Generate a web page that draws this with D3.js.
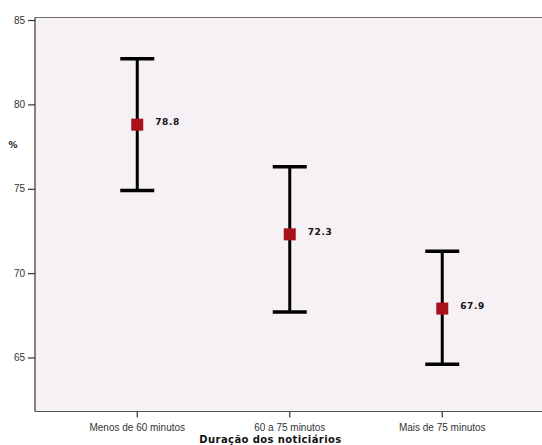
<!DOCTYPE html>
<html>
<head>
<meta charset="utf-8">
<script src="https://cdn.jsdelivr.net/npm/d3@7"></script>
<style>
  html, body { margin: 0; padding: 0; background: #ffffff; }
  svg { display: block; }
</style>
</head>
<body>
<script>
// Mean percentage with interval, by newscast duration
const categories = ["Menos de 60 minutos", "60 a 75 minutos", "Mais de 75 minutos"];
const means = [78.8, 72.3, 67.9];
const lower = [74.9, 67.7, 64.6];
const upper = [82.7, 76.3, 71.3];
const yTicks = [65, 70, 75, 80, 85];

const W = 542, H = 445;
const plot = { left: 35, right: 542, top: 17.5, bottom: 411.5 };

const svg = d3.select("body").append("svg")
  .attr("width", W).attr("height", H);

const y = d3.scaleLinear()
  .domain([61.8, 85.15])
  .range([plot.bottom, plot.top]);

const x = d3.scaleBand()
  .domain(categories)
  .range([61, 518.5])
  .paddingInner(0).paddingOuter(0);

// plot background
svg.append("rect")
  .attr("x", plot.left).attr("y", plot.top)
  .attr("width", plot.right - plot.left)
  .attr("height", plot.bottom - plot.top)
  .attr("fill", "#f6f1f5");

// top frame line
svg.append("line")
  .attr("x1", plot.left).attr("x2", plot.right)
  .attr("y1", plot.top).attr("y2", plot.top)
  .attr("stroke", "#6e6e6e").attr("stroke-width", 1.2);

// y axis
const yAxis = svg.append("g")
  .attr("transform", `translate(${plot.left},0)`)
  .call(d3.axisLeft(y).tickValues(yTicks).tickSize(7).tickPadding(3).tickFormat(d3.format("d")));
yAxis.select(".domain")
  .attr("d", `M0,${plot.top}V${plot.bottom}`)
  .attr("stroke", "#333").attr("stroke-width", 1.2);
yAxis.selectAll(".tick line").attr("stroke", "#333").attr("stroke-width", 1.2);
yAxis.selectAll(".tick text")
  .attr("fill", "#333")
  .style("font-family", "'Liberation Sans', Arial, sans-serif")
  .style("font-size", "10px");

// x axis
const xAxis = svg.append("g")
  .attr("transform", `translate(0,${plot.bottom})`)
  .call(d3.axisBottom(x).tickSize(6).tickPadding(6));
xAxis.select(".domain")
  .attr("d", `M${plot.left},0H${plot.right}`)
  .attr("stroke", "#555").attr("stroke-width", 1.2);
xAxis.selectAll(".tick line").attr("stroke", "#333").attr("stroke-width", 1.2);
xAxis.selectAll(".tick text")
  .attr("fill", "#333")
  .style("font-family", "'Liberation Sans', Arial, sans-serif")
  .style("font-size", "10px");

// axis titles
svg.append("text")
  .attr("x", 13).attr("y", 148)
  .attr("text-anchor", "middle")
  .style("font-family", "'DejaVu Sans', Verdana, sans-serif")
  .style("font-weight", "bold")
  .style("font-size", "9px")
  .attr("fill", "#111")
  .text("%");

svg.append("text")
  .attr("x", 270.5).attr("y", 443)
  .attr("text-anchor", "middle")
  .style("font-family", "'DejaVu Sans', Verdana, sans-serif")
  .style("font-weight", "bold")
  .style("font-size", "10px")
  .style("letter-spacing", "0.4px")
  .attr("fill", "#111")
  .text("Duração dos noticiários");

// error bars
const rows = categories.map((c, i) => ({ c, m: means[i], lo: lower[i], hi: upper[i] }));
const cx = d => x(d.c) + x.bandwidth() / 2;
const capHalf = 17;

const g = svg.append("g");
const bars = g.selectAll("g.bar").data(rows).join("g").attr("class", "bar");

bars.append("line")
  .attr("x1", cx).attr("x2", cx)
  .attr("y1", d => y(d.hi)).attr("y2", d => y(d.lo))
  .attr("stroke", "#000").attr("stroke-width", 3);

bars.append("line")
  .attr("x1", d => cx(d) - capHalf).attr("x2", d => cx(d) + capHalf)
  .attr("y1", d => y(d.hi)).attr("y2", d => y(d.hi))
  .attr("stroke", "#000").attr("stroke-width", 3.5);

bars.append("line")
  .attr("x1", d => cx(d) - capHalf).attr("x2", d => cx(d) + capHalf)
  .attr("y1", d => y(d.lo)).attr("y2", d => y(d.lo))
  .attr("stroke", "#000").attr("stroke-width", 3.5);

// mean markers
bars.append("rect")
  .attr("x", d => cx(d) - 6).attr("y", d => y(d.m) - 6)
  .attr("width", 12).attr("height", 12)
  .attr("fill", "#a8111b");

// value labels
bars.append("text")
  .attr("x", d => cx(d) + 18).attr("y", d => y(d.m) - 2)
  .attr("dominant-baseline", "middle")
  .style("font-family", "'DejaVu Sans', Verdana, sans-serif")
  .style("font-weight", "bold")
  .style("font-size", "9px")
  .style("letter-spacing", "0.6px")
  .attr("fill", "#111")
  .text(d => d3.format(".1f")(d.m));
</script>
</body>
</html>
